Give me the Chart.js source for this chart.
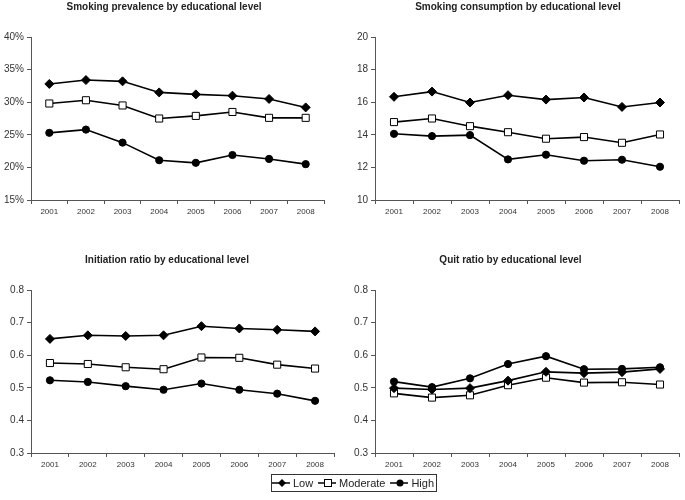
<!DOCTYPE html>
<html>
<head>
<meta charset="utf-8">
<script src="https://cdn.jsdelivr.net/npm/chart.js@4"></script>
<style>
  body { margin: 0; background: #fff; width: 685px; height: 500px; position: relative; overflow: hidden; font-family: "Liberation Sans", Arial, sans-serif; }
  .panel { position: absolute; }
  #legend { position: absolute; left: 271px; top: 474px; width: 166px; height: 18px; border: 1px solid #333; box-sizing: border-box;
            font-size: 11px; color: #222; display: flex; align-items: center; justify-content: center; gap: 3px; }
  #legend svg { display: block; }
  #legend span { margin-right: 2px; }
</style>
</head>
<body>
<div class="panel" style="left:0;top:0;width:330px;height:225px"><canvas id="c1"></canvas></div>
<div class="panel" style="left:353px;top:0;width:332px;height:225px"><canvas id="c2"></canvas></div>
<div class="panel" style="left:0;top:245px;width:341px;height:230px"><canvas id="c3"></canvas></div>
<div class="panel" style="left:341px;top:245px;width:344px;height:230px"><canvas id="c4"></canvas></div>
<div id="legend">
  <svg width="20" height="10"><line x1="0" y1="5" x2="20" y2="5" stroke="#000" stroke-width="1.5"/><polygon points="10,1 14,5 10,9 6,5" fill="#000"/></svg><span>Low</span>
  <svg width="20" height="10"><line x1="0" y1="5" x2="20" y2="5" stroke="#000" stroke-width="1.5"/><rect x="6.5" y="1.5" width="7" height="7" fill="#fff" stroke="#000"/></svg><span>Moderate</span>
  <svg width="20" height="10"><line x1="0" y1="5" x2="20" y2="5" stroke="#000" stroke-width="1.5"/><circle cx="10" cy="5" r="3.5" fill="#000"/></svg><span>High</span>
</div>
<script>
const years = ["2001", "2002", "2003", "2004", "2005", "2006", "2007", "2008"];

// Smoking prevalence (%)
const prevLow = [32.8, 33.4, 33.2, 31.5, 31.2, 31.0, 30.5, 29.2];
const prevModerate = [29.8, 30.3, 29.5, 27.5, 27.9, 28.5, 27.6, 27.6];
const prevHigh = [25.3, 25.8, 23.8, 21.1, 20.7, 21.9, 21.3, 20.5];

// Smoking consumption
const consLow = [16.33, 16.65, 15.98, 16.43, 16.16, 16.29, 15.71, 15.98];
const consModerate = [14.78, 15.0, 14.53, 14.16, 13.76, 13.86, 13.51, 14.02];
const consHigh = [14.06, 13.92, 13.98, 12.49, 12.78, 12.41, 12.47, 12.04];

// Initiation ratio
const initLow = [0.650, 0.661, 0.659, 0.661, 0.689, 0.682, 0.678, 0.673];
const initModerate = [0.576, 0.573, 0.563, 0.557, 0.593, 0.592, 0.571, 0.559];
const initHigh = [0.523, 0.518, 0.505, 0.494, 0.513, 0.494, 0.482, 0.460];

// Quit ratio
const quitLow = [0.499, 0.495, 0.499, 0.522, 0.549, 0.545, 0.548, 0.558];
const quitModerate = [0.483, 0.470, 0.477, 0.508, 0.531, 0.516, 0.517, 0.510];
const quitHigh = [0.519, 0.502, 0.529, 0.573, 0.597, 0.557, 0.558, 0.563];

const percentTicks = [15, 20, 25, 30, 35, 40];

Chart.defaults.font.family = "'Liberation Sans', Arial, sans-serif";
Chart.defaults.animation = false;

function makePanel(id, title, low, moderate, high, y, box) {
    const axisColor = "#555";
    new Chart(document.getElementById(id), {
        type: "line",
        data: {
            labels: years,
            datasets: [
                { label: "Low", data: low, borderColor: "#000", backgroundColor: "#000", borderWidth: 1.6,
                  pointStyle: "rectRot", pointRadius: 4.5, pointBorderWidth: 1 },
                { label: "Moderate", data: moderate, borderColor: "#000", backgroundColor: "#fff", borderWidth: 1.6,
                  pointStyle: "rect", pointRadius: 5, pointBorderWidth: 1 },
                { label: "High", data: high, borderColor: "#000", backgroundColor: "#000", borderWidth: 1.6,
                  pointStyle: "circle", pointRadius: 3.6, pointBorderWidth: 1 }
            ]
        },
        options: {
            responsive: true,
            maintainAspectRatio: false,
            layout: { padding: { left: 0, right: box.right, top: 0, bottom: 0 } },
            plugins: {
                legend: { display: false },
                tooltip: { enabled: false },
                title: { display: true, text: title, color: "#222",
                         font: { size: 10, weight: "bold" },
                         padding: { top: box.titleTop, bottom: box.titleBottom } }
            },
            scales: {
                x: {
                    offset: true,
                    grid: { offset: true, drawOnChartArea: false, tickLength: 4, color: axisColor },
                    border: { color: axisColor, width: 1 },
                    ticks: { color: "#333", font: { size: 8 }, padding: 3, maxRotation: 0, autoSkip: false },
                    afterFit: (s) => { s.height = box.xHeight; }
                },
                y: {
                    min: y.min, max: y.max,
                    grid: { drawOnChartArea: false, tickLength: 4, color: axisColor },
                    border: { color: axisColor, width: 1 },
                    ticks: { stepSize: y.step, color: "#333", font: { size: 10 }, padding: 3, callback: y.format },
                    afterFit: (s) => { s.width = box.yWidth; }
                }
            }
        }
    });
}

makePanel("c1", "Smoking prevalence by educational level", prevLow, prevModerate, prevHigh,
    { min: 15, max: 40, step: 5, format: (v) => v + "%" },
    { right: 2, titleTop: 1.5, titleBottom: 23.5, xHeight: 25, yWidth: 31 });

makePanel("c2", "Smoking consumption by educational level", consLow, consModerate, consHigh,
    { min: 10, max: 20, step: 2, format: (v) => v },
    { right: 2, titleTop: 1.5, titleBottom: 23.5, xHeight: 25, yWidth: 22 });

makePanel("c3", "Initiation ratio by educational level", initLow, initModerate, initHigh,
    { min: 0.3, max: 0.8, step: 0.1, format: (v) => v.toFixed(1) },
    { right: 7, titleTop: 9, titleBottom: 24, xHeight: 22, yWidth: 31 });

makePanel("c4", "Quit ratio by educational level", quitLow, quitModerate, quitHigh,
    { min: 0.3, max: 0.8, step: 0.1, format: (v) => v.toFixed(1) },
    { right: 5, titleTop: 9, titleBottom: 24, xHeight: 22, yWidth: 34 });
</script>
</body>
</html>
